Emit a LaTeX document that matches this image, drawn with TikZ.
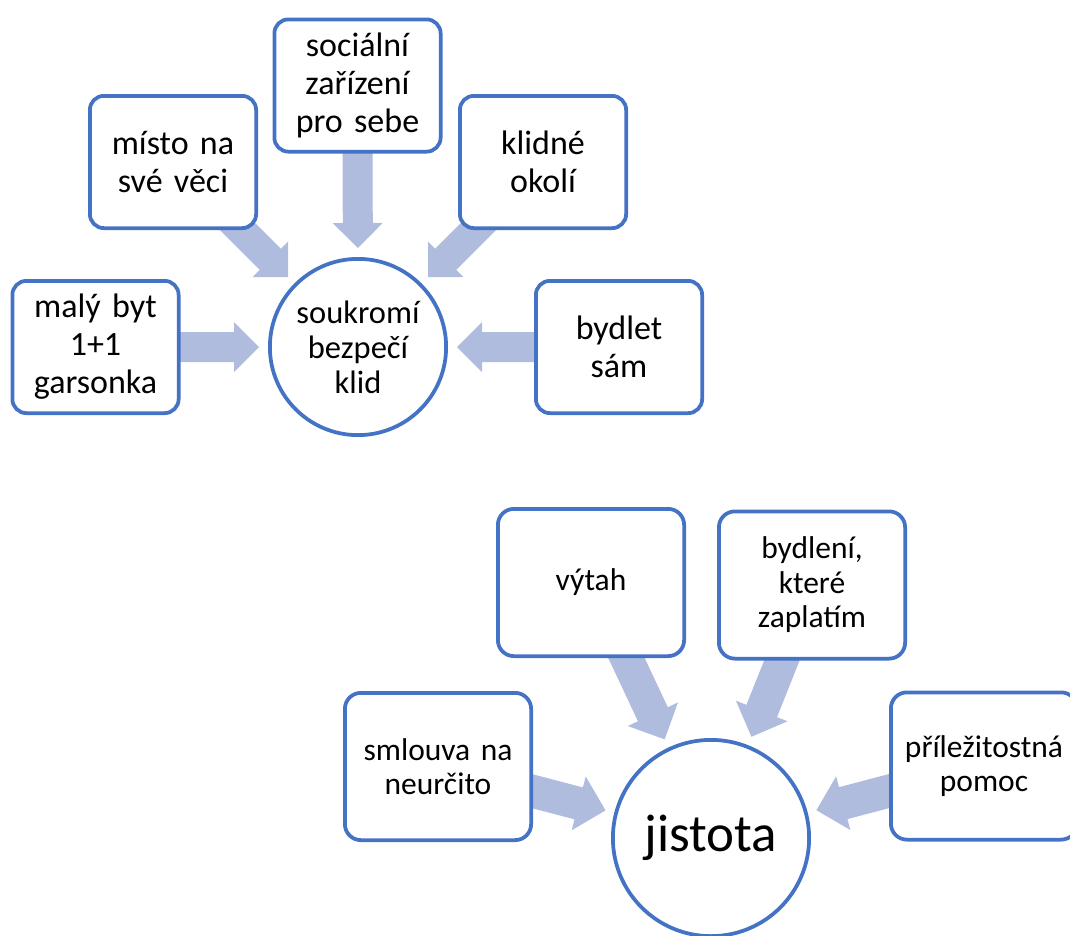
\documentclass[tikz,border=0pt]{standalone}
\usepackage{fontspec}
\setmainfont{Carlito}
\usetikzlibrary{calc,backgrounds}

\definecolor{edge}{HTML}{4472C4}
\definecolor{flow}{RGB}{175,188,222}

% Block arrow from the centre of node #1 towards node #2, tip #3 away from #2's centre.
% #4 = half shaft width, #5 = half head width, #6 = head length
\newcommand\blockarrow[6]{%
  \coordinate (ba-t) at ($(#2.center)!#3!(#1.center)$);
  \coordinate (ba-h) at ($(ba-t)!#6!(#1.center)$);
  \fill[flow] ($(#1.center)!#4!90:(ba-t)$) -- ($(ba-h)!#4!90:(ba-t)$)
    -- ($(ba-h)!#5!90:(ba-t)$) -- (ba-t) -- ($(ba-h)!#5!-90:(ba-t)$)
    -- ($(ba-h)!#4!-90:(ba-t)$) -- ($(#1.center)!#4!-90:(ba-t)$) -- cycle;
}

\tikzset{
  smallbox/.style={draw=edge, line width=3.75pt, fill=white, rounded corners=14pt,
    minimum width=166.25pt, minimum height=132.25pt, text width=160pt, align=center,
    inner sep=0pt, font=\fontsize{34}{38}\selectfont},
  bigbox/.style={draw=edge, line width=3.75pt, fill=white, rounded corners=16pt,
    minimum width=186.25pt, minimum height=147.25pt, text width=180pt, align=center,
    inner sep=0pt, font=\fontsize{31.5}{34.5}\selectfont},
  hub/.style={circle, draw=edge, line width=3.75pt, fill=white, inner sep=0pt, align=center},
}

\begin{document}
\begin{tikzpicture}[x=1pt, y=-1pt]
  \useasboundingbox (0,0) rectangle (1070,935);

  % upper cluster
  \node[hub, minimum size=176.25pt, font=\fontsize{32.5}{35}\selectfont] (priv) at (358,347)
    {soukromí\\bezpečí\\klid};
  \node[smallbox] (soc)   at (357.5,85.5) {sociální\\zařízení\\pro sebe};
  \node[smallbox] (misto) at (173,162)    {místo na\\své věci};
  \node[smallbox] (klid)  at (543,162)    {klidné\\okolí};
  \node[smallbox] (byt)   at (95.5,347)   {malý byt\\1+1\\garsonka};
  \node[smallbox] (sam)   at (619,347)    {bydlet\\sám};

  % lower cluster
  \node[hub, minimum size=196.25pt, font=\fontsize{53}{60}\selectfont] (jist) at (711,838) {jistota};
  \node[bigbox] (vytah)  at (591,582.5) {výtah};
  \node[bigbox] (plat)   at (812,585)   {bydlení,\\které\\zaplatím};
  \node[bigbox] (smlouva) at (438,766.5) {smlouva na\\neurčito};
  \node[bigbox] (pomoc)  at (984,766)   {příležitostná\\pomoc};

  \begin{scope}[on background layer]
    \blockarrow{soc}{priv}{99pt}{15pt}{25pt}{25pt}
    \blockarrow{misto}{priv}{99pt}{15pt}{25pt}{25pt}
    \blockarrow{klid}{priv}{99pt}{15pt}{25pt}{25pt}
    \blockarrow{byt}{priv}{99pt}{15pt}{25pt}{25pt}
    \blockarrow{sam}{priv}{99pt}{15pt}{25pt}{25pt}

    \blockarrow{vytah}{jist}{109pt}{16.5pt}{27.75pt}{27.75pt}
    \blockarrow{plat}{jist}{109pt}{16.5pt}{27.75pt}{27.75pt}
    \blockarrow{smlouva}{jist}{109pt}{16.5pt}{27.75pt}{27.75pt}
    \blockarrow{pomoc}{jist}{109pt}{16.5pt}{27.75pt}{27.75pt}
  \end{scope}
\end{tikzpicture}
\end{document}
